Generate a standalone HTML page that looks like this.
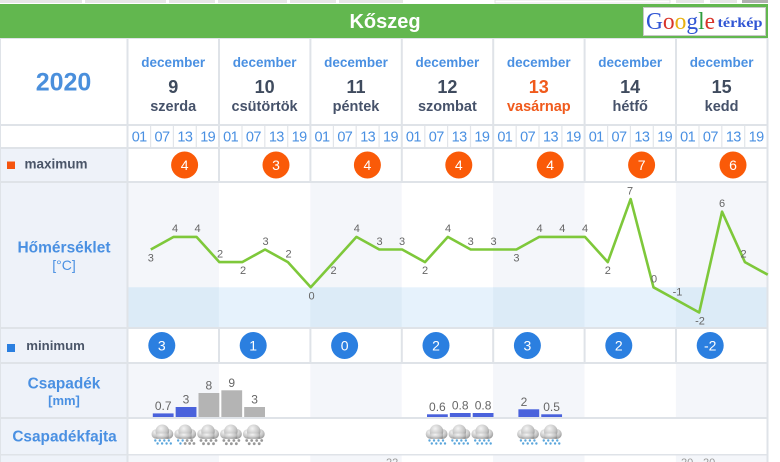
<!DOCTYPE html>
<html><head><meta charset="utf-8"><style>
html,body{margin:0;padding:0;background:#fff;}
svg{display:block;font-family:"Liberation Sans",Arial,sans-serif;}
</style></head><body>
<svg width="780" height="462" viewBox="0 0 780 462" xmlns="http://www.w3.org/2000/svg">
<defs>
<radialGradient id="cg" cx="0.4" cy="0.3" r="0.85"><stop offset="0" stop-color="#f4f4f4"/><stop offset="0.55" stop-color="#c4c4c4"/><stop offset="1" stop-color="#7c7c7c"/></radialGradient>
<symbol id="cloud" viewBox="0 0 23 20"><circle cx="5.5" cy="9.5" r="4.8" fill="url(#cg)"/><circle cx="17.5" cy="9.5" r="5" fill="url(#cg)"/><circle cx="11.5" cy="6.8" r="6.8" fill="url(#cg)"/><rect x="5" y="8.5" width="13" height="5.8" rx="2" fill="url(#cg)"/></symbol>
<g id="rain"><use href="#cloud" x="0" y="0" width="23" height="20"/><g fill="#5aa6dc"><circle cx="4.5" cy="16" r="1.2"/><circle cx="9" cy="16" r="1.2"/><circle cx="13.5" cy="16" r="1.2"/><circle cx="18" cy="16" r="1.2"/><circle cx="6.8" cy="19" r="1.2"/><circle cx="11.3" cy="19" r="1.2"/><circle cx="15.8" cy="19" r="1.2"/><circle cx="20" cy="19" r="1.2"/></g></g>
</defs>

<!-- top strip -->
<g fill="#e6e6e6">
<rect x="0" y="0" width="82" height="3"/><rect x="85" y="0" width="81" height="3"/><rect x="169" y="0" width="46" height="3"/><rect x="218" y="0" width="69" height="3"/><rect x="290" y="0" width="46" height="3"/><rect x="339" y="0" width="64" height="3"/><rect x="676" y="0" width="28" height="3"/><rect x="710" y="0" width="27" height="3"/>
</g>
<rect x="495" y="0" width="175" height="3" fill="#fff" stroke="#ddd" stroke-width="0.8"/>
<rect x="742" y="0" width="26" height="3" fill="#b0b0b0"/>

<!-- green header -->
<rect x="0" y="4" width="768" height="34" fill="#62b74f"/>
<text x="385" y="28" font-size="20" font-weight="bold" fill="#fff" text-anchor="middle">Kőszeg</text>
<rect x="643.5" y="7.5" width="122" height="28" fill="#fff" stroke="#c8c8c8"/>
<text y="29" font-family="Liberation Serif,serif" font-size="24" textLength="69" lengthAdjust="spacingAndGlyphs" x="646"><tspan fill="#3156d4">G</tspan><tspan fill="#d8342a">o</tspan><tspan fill="#e8b010">o</tspan><tspan fill="#3156d4">g</tspan><tspan fill="#2e9d3e">l</tspan><tspan fill="#d8342a">e</tspan></text>
<text x="717.5" y="27" font-family="Liberation Serif,serif" font-size="14" font-weight="bold" fill="#3156d4" textLength="45" lengthAdjust="spacingAndGlyphs">térkép</text>

<!-- label column backgrounds -->
<rect x="0" y="149" width="127" height="313" fill="#eef2f9"/>
<rect x="0" y="38" width="127" height="111" fill="#fff"/>

<!-- chart bands -->
<g fill="#f4f6fa">
<rect x="128.5" y="183" width="90.4" height="144"/><rect x="310.3" y="183" width="91.4" height="144"/><rect x="493.1" y="183" width="91.4" height="144"/><rect x="675.9" y="183" width="91.4" height="144"/>
<rect x="128.5" y="364" width="90.4" height="53"/><rect x="310.3" y="364" width="91.4" height="53"/><rect x="493.1" y="364" width="91.4" height="53"/><rect x="675.9" y="364" width="91.4" height="53"/>
<rect x="128.5" y="455" width="90.4" height="7"/><rect x="310.3" y="455" width="91.4" height="7"/><rect x="493.1" y="455" width="91.4" height="7"/><rect x="675.9" y="455" width="91.4" height="7"/>
</g>
<rect x="128.5" y="287.3" width="638.8" height="39.7" fill="#e6f2fc"/>
<g fill="#dcebf7">
<rect x="128.5" y="287.3" width="90.4" height="39.7"/><rect x="310.3" y="287.3" width="91.4" height="39.7"/><rect x="493.1" y="287.3" width="91.4" height="39.7"/><rect x="675.9" y="287.3" width="91.4" height="39.7"/>
</g>

<!-- grid lines -->
<g fill="#dfe3e8">
<rect x="0" y="38" width="768" height="1"/>
<rect x="0" y="124" width="768" height="2"/>
<rect x="0" y="147" width="768" height="2"/>
<rect x="0" y="181" width="768" height="2"/>
<rect x="0" y="327" width="768" height="2"/>
<rect x="0" y="362" width="768" height="2"/>
<rect x="0" y="417" width="768" height="2"/>
<rect x="0" y="454" width="768" height="1.5"/>
<rect x="0" y="38" width="1" height="424"/>
<rect x="126.5" y="38" width="2" height="424"/>
<rect x="766.5" y="38" width="2" height="424"/>
<rect x="218" y="38" width="2" height="145"/><rect x="309.4" y="38" width="2" height="145"/><rect x="400.8" y="38" width="2" height="145"/><rect x="492.2" y="38" width="2" height="145"/><rect x="583.6" y="38" width="2" height="145"/><rect x="675" y="38" width="2" height="145"/>
<rect x="218" y="329" width="2" height="34"/><rect x="309.4" y="329" width="2" height="34"/><rect x="400.8" y="329" width="2" height="34"/><rect x="492.2" y="329" width="2" height="34"/><rect x="583.6" y="329" width="2" height="34"/><rect x="675" y="329" width="2" height="34"/>
</g>
<!-- hour separators -->
<g fill="#e2e5ea" id="hs">
<rect x="150" y="126" width="1.2" height="21"/><rect x="172.8" y="126" width="1.2" height="21"/><rect x="195.7" y="126" width="1.2" height="21"/>
</g>
<use href="#hs" x="91.4"/><use href="#hs" x="182.8"/><use href="#hs" x="274.2"/><use href="#hs" x="365.6"/><use href="#hs" x="457"/><use href="#hs" x="548.4"/>

<!-- year -->
<text x="63.5" y="90.5" font-size="25" font-weight="bold" fill="#4a8fdc" text-anchor="middle">2020</text>

<!-- dates -->
<g text-anchor="middle" font-weight="bold">
<g font-size="13.5" fill="#4a90e2">
<text x="173.2" y="67">december</text><text x="264.6" y="67">december</text><text x="356" y="67">december</text><text x="447.4" y="67">december</text><text x="538.8" y="67">december</text><text x="630.2" y="67">december</text><text x="721.6" y="67">december</text>
</g>
<g font-size="18" fill="#3f4b5e">
<text x="173.2" y="93">9</text><text x="264.6" y="93">10</text><text x="356" y="93">11</text><text x="447.4" y="93">12</text><text x="538.8" y="93" fill="#f05a1c">13</text><text x="630.2" y="93">14</text><text x="721.6" y="93">15</text>
</g>
<g font-size="14.5" fill="#46526a">
<text x="173.2" y="111">szerda</text><text x="264.6" y="111">csütörtök</text><text x="356" y="111">péntek</text><text x="447.4" y="111">szombat</text><text x="538.8" y="111" fill="#f05a1c">vasárnap</text><text x="630.2" y="111">hétfő</text><text x="721.6" y="111">kedd</text>
</g>
</g>

<!-- hours -->
<g id="hrs" font-size="14.5" fill="#4a90e2" text-anchor="middle" letter-spacing="-0.6">
<text x="139.2" y="141.7">01</text><text x="162" y="141.7">07</text><text x="184.9" y="141.7">13</text><text x="207.7" y="141.7">19</text>
</g>
<use href="#hrs" x="91.4"/><use href="#hrs" x="182.8"/><use href="#hrs" x="274.2"/><use href="#hrs" x="365.6"/><use href="#hrs" x="457"/><use href="#hrs" x="548.4"/>

<!-- labels -->
<rect x="7" y="161.5" width="8" height="7.5" fill="#f5540e"/>
<text x="24.5" y="168.5" font-size="13.5" font-weight="bold" fill="#4a5568">maximum</text>
<rect x="7" y="344" width="8" height="8" fill="#2b7fe0"/>
<text x="26.3" y="350" font-size="13.2" font-weight="bold" fill="#4a5568">minimum</text>
<text x="64" y="252.5" font-size="15.5" font-weight="bold" fill="#4a90e2" text-anchor="middle">Hőmérséklet</text>
<text x="64" y="270" font-size="14" fill="#4a90e2" text-anchor="middle">[°C]</text>
<text x="64" y="388.3" font-size="15.4" font-weight="bold" fill="#4a90e2" text-anchor="middle">Csapadék</text>
<text x="64" y="405" font-size="13" font-weight="bold" fill="#4a90e2" text-anchor="middle">[mm]</text>
<text x="64.5" y="441.7" font-size="15.4" font-weight="bold" fill="#4a90e2" text-anchor="middle">Csapadékfajta</text>

<!-- max circles -->
<g fill="#fa5a08">
<circle cx="184.6" cy="165" r="13.5"/><circle cx="276" cy="165" r="13.5"/><circle cx="367.4" cy="165" r="13.5"/><circle cx="458.8" cy="165" r="13.5"/><circle cx="550.2" cy="165" r="13.5"/><circle cx="641.6" cy="165" r="13.5"/><circle cx="733" cy="165" r="13.5"/>
</g>
<g fill="#fff" font-size="14" text-anchor="middle">
<text x="184.6" y="170">4</text><text x="276" y="170">3</text><text x="367.4" y="170">4</text><text x="458.8" y="170">4</text><text x="550.2" y="170">4</text><text x="641.6" y="170">7</text><text x="733" y="170">6</text>
</g>

<!-- min circles -->
<g fill="#2b7fe0">
<circle cx="161.8" cy="345.5" r="13.5"/><circle cx="253.2" cy="345.5" r="13.5"/><circle cx="344.6" cy="345.5" r="13.5"/><circle cx="436" cy="345.5" r="13.5"/><circle cx="527.4" cy="345.5" r="13.5"/><circle cx="618.8" cy="345.5" r="13.5"/><circle cx="710.2" cy="345.5" r="13.5"/>
</g>
<g fill="#fff" font-size="14" text-anchor="middle">
<text x="161.8" y="350.5">3</text><text x="253.2" y="350.5">1</text><text x="344.6" y="350.5">0</text><text x="436" y="350.5">2</text><text x="527.4" y="350.5">3</text><text x="618.8" y="350.5">2</text><text x="710.2" y="350.5">-2</text>
</g>

<!-- temperature line -->
<polyline fill="none" stroke="#7ec83a" stroke-width="2.6" stroke-linejoin="round" points="150.8,249.5 173.65,236.9 196.5,236.9 219.35,262.1 242.2,262.1 265.05,249.5 287.9,262.1 310.75,287.3 333.6,262.1 356.45,236.9 379.3,249.5 402.15,249.5 425,262.1 447.85,236.9 470.7,249.5 493.55,249.5 516.4,249.5 539.25,236.9 562.1,236.9 584.95,236.9 607.8,262.1 630.65,199.1 653.5,287.3 676.35,299.9 699.2,312.5 722.05,211.7 744.9,262.1 767.75,274.7"/>
<g font-size="11" fill="#666" text-anchor="middle">
<text x="150.8" y="261.5">3</text>
<text x="175" y="232.2">4</text>
<text x="197.5" y="232.2">4</text>
<text x="220" y="257.4">2</text>
<text x="243" y="274.1">2</text>
<text x="265.5" y="244.8">3</text>
<text x="288.5" y="257.4">2</text>
<text x="311.5" y="299.3">0</text>
<text x="333.6" y="274.1">2</text>
<text x="356.8" y="232.2">4</text>
<text x="379.5" y="244.8">3</text>
<text x="402" y="244.8">3</text>
<text x="425" y="274.1">2</text>
<text x="448" y="232.2">4</text>
<text x="470.7" y="244.8">3</text>
<text x="493.5" y="244.8">3</text>
<text x="516.4" y="261.5">3</text>
<text x="539.5" y="232.2">4</text>
<text x="562.3" y="232.2">4</text>
<text x="585" y="232.2">4</text>
<text x="607.8" y="274.1">2</text>
<text x="630" y="194.4">7</text>
<text x="654" y="282.6">0</text>
<text x="677.5" y="295.6">-1</text>
<text x="700" y="324.5">-2</text>
<text x="722" y="207">6</text>
<text x="743.5" y="257.4">2</text>
</g>

<!-- precipitation bars -->
<g fill="#4a62dc">
<rect x="152.8" y="413.4" width="20.8" height="3.6"/>
<rect x="175.65" y="407" width="20.8" height="10"/>
<rect x="427" y="414.3" width="20.8" height="2.7"/>
<rect x="449.85" y="413" width="20.8" height="4"/>
<rect x="472.7" y="413" width="20.8" height="4"/>
<rect x="518.4" y="409.3" width="20.8" height="7.7"/>
<rect x="541.25" y="414.3" width="20.8" height="2.7"/>
</g>
<g fill="#b4b4b4">
<rect x="198.5" y="393" width="20.8" height="24"/>
<rect x="221.35" y="390.3" width="20.8" height="26.7"/>
<rect x="244.2" y="407" width="20.8" height="10"/>
</g>
<g font-size="12" fill="#666" text-anchor="middle">
<text x="163.2" y="410">0.7</text>
<text x="186" y="403.5">3</text>
<text x="208.9" y="389.5">8</text>
<text x="231.7" y="386.8">9</text>
<text x="254.6" y="403.5">3</text>
<text x="437.4" y="410.8">0.6</text>
<text x="460.2" y="409.5">0.8</text>
<text x="483.1" y="409.5">0.8</text>
<text x="524" y="405.8">2</text>
<text x="551.6" y="410.8">0.5</text>
</g>

<!-- precipitation type icons -->
<use href="#rain" x="150.8" y="424.5"/>
<g transform="translate(173.65,424.5)"><use href="#cloud" width="23" height="20"/><g fill="#5aa6dc"><circle cx="4.5" cy="16" r="1.2"/><circle cx="9" cy="16" r="1.2"/><circle cx="6.8" cy="19" r="1.2"/></g><g fill="#999"><circle cx="13.5" cy="16" r="1.4"/><circle cx="18" cy="16" r="1.4"/><circle cx="11.5" cy="19" r="1.4"/><circle cx="16" cy="19" r="1.4"/><circle cx="20.3" cy="19" r="1.4"/></g></g>
<g id="snow" transform="translate(196.5,424.5)"><use href="#cloud" width="23" height="20"/><g fill="#989898"><circle cx="4.5" cy="16" r="1.4"/><circle cx="9.5" cy="16" r="1.4"/><circle cx="14.5" cy="16" r="1.4"/><circle cx="19.5" cy="16" r="1.4"/><circle cx="7" cy="19.2" r="1.4"/><circle cx="12" cy="19.2" r="1.4"/><circle cx="17" cy="19.2" r="1.4"/></g></g>
<use href="#snow" x="22.85"/>
<use href="#snow" x="45.7"/>
<use href="#rain" x="425" y="424.5"/>
<use href="#rain" x="447.85" y="424.5"/>
<use href="#rain" x="470.7" y="424.5"/>
<use href="#rain" x="516.4" y="424.5"/>
<use href="#rain" x="539.25" y="424.5"/>

<!-- bottom row partial text -->
<g font-size="11" fill="#999">
<text x="386" y="466">22</text>
<text x="681" y="466">20</text>
<text x="703" y="466">20</text>
</g>
</svg>
</body></html>
